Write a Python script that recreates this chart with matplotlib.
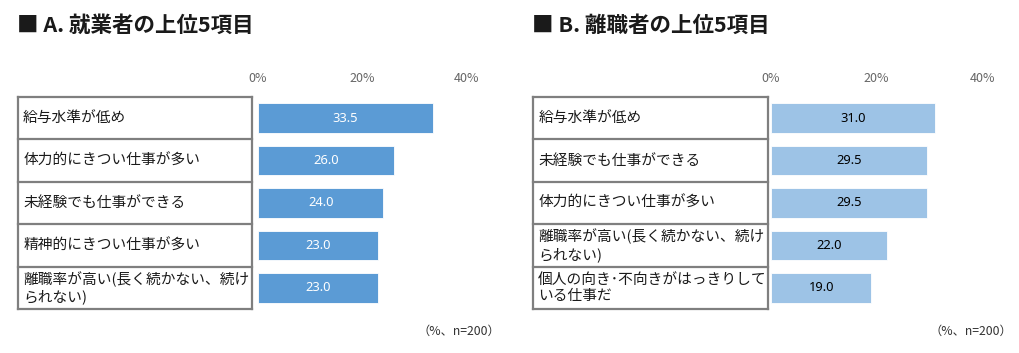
import matplotlib
matplotlib.use('Agg')
import matplotlib.pyplot as plt

plt.rcParams['font.family'] = ['Noto Sans CJK JP', 'DejaVu Sans']

W, H = 1019, 353

# data
title_a = '■ A. 就業者の上位5項目'
cats_a = ['給与水準が低め', '体力的にきつい仕事が多い', '未経験でも仕事ができる',
          '精神的にきつい仕事が多い', '離職率が高い(長く続かない、続け\nられない)']
vals_a = [33.5, 26.0, 24.0, 23.0, 23.0]

title_b = '■ B. 離職者の上位5項目'
cats_b = ['給与水準が低め', '未経験でも仕事ができる', '体力的にきつい仕事が多い',
          '離職率が高い(長く続かない、続け\nられない)', '個人の向き･不向きがはっきりして\nいる仕事だ']
vals_b = [31.0, 29.5, 29.5, 22.0, 19.0]

ticks = [0, 20, 40]
tick_labels = ['0%', '20%', '40%']
note = '（%、n=200）'


def px_axes(fig, x0, x1, y0, y1):
    # axes placed by pixel box (y measured from top)
    return fig.add_axes([x0 / W, 1 - y1 / H, (x1 - x0) / W, (y1 - y0) / H])


def panel(fig, title, cats, vals, color, txtcolor, tx0, tx1, bx0, bx1, note_x):
    top, bot = 97, 309
    n = len(cats)

    # label table
    tab = px_axes(fig, tx0, tx1, top, bot)
    tab.set_xlim(0, 1)
    tab.set_ylim(n - 0.5, -0.5)
    tab.axis('off')
    for i in range(n + 1):
        tab.plot([0, 1], [i - 0.5, i - 0.5], color='#7f7f7f', lw=1.6, clip_on=False)
    tab.plot([0, 0], [-0.5, n - 0.5], color='#7f7f7f', lw=1.6, clip_on=False)
    tab.plot([1, 1], [-0.5, n - 0.5], color='#7f7f7f', lw=1.6, clip_on=False)
    for i, c in enumerate(cats):
        tab.text(0.022, i, c, ha='left', va='center', fontsize=10.6,
                 linespacing=1.2, color='#1a1a1a')

    # bars
    ax = px_axes(fig, bx0, bx1, top, bot)
    bars = ax.barh(range(n), vals, height=0.7, color=color, edgecolor='white', lw=0.6)
    ax.set_xlim(0, 40)
    ax.set_ylim(n - 0.5, -0.5)
    ax.set_xticks(ticks)
    ax.set_xticklabels(tick_labels)
    ax.set_yticks([])
    ax.tick_params(axis='x', top=True, labeltop=True, bottom=False, labelbottom=False,
                   length=0, pad=9, labelsize=9, labelcolor='#666666')
    for s in ax.spines.values():
        s.set_visible(False)
    ax.bar_label(bars, fmt='%.1f', label_type='center', color=txtcolor, fontsize=9.3,
                 family='Noto Sans')

    fig.text((tx0 - 1) / W, 1 - 25 / H, title, ha='left', va='center',
             fontsize=15.5, fontweight='bold', color='#1a1a1a')
    fig.text(note_x / W, 1 - 331 / H, note, ha='right', va='center',
             fontsize=8.8, color='#333333')


fig = plt.figure(figsize=(W / 100, H / 100), dpi=100)
panel(fig, title_a, cats_a, vals_a, '#5b9bd5', 'white', 18, 252, 258, 467, 500)
panel(fig, title_b, cats_b, vals_b, '#9dc3e6', 'black', 533, 768, 771, 982, 1012)
fig.savefig('out.png', dpi=100)
